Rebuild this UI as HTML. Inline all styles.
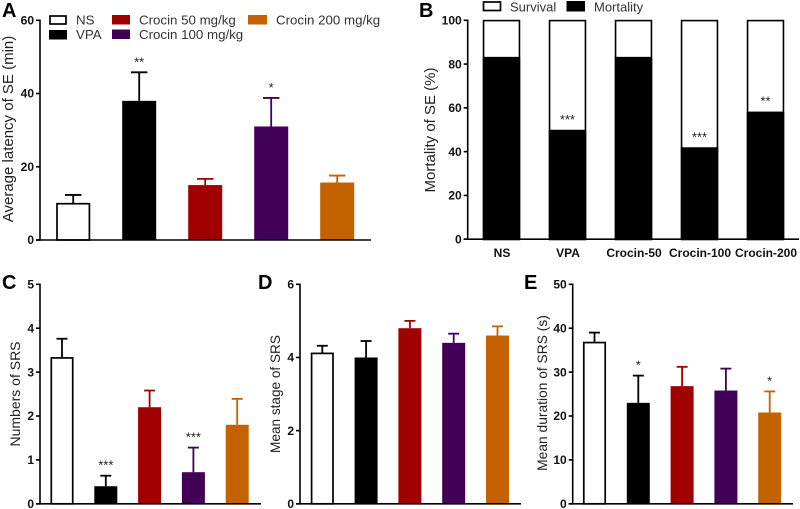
<!DOCTYPE html>
<html lang="en">
<head>
<meta charset="utf-8">
<title>Crocin SE and SRS charts</title>
<style>
html,body{margin:0;padding:0;background:#fff;width:800px;height:509px;overflow:hidden}
svg{display:block}
text{font-family:"Liberation Sans",sans-serif}
.letter{font-size:20px;font-weight:bold;fill:#000}
.title{font-size:15px;fill:#222}
.leg{font-size:13.3px;fill:#333}
</style>
</head>
<body>
<svg id="chart" xmlns="http://www.w3.org/2000/svg" width="800" height="509" viewBox="0 0 800 509">
  <text class="letter" x="2" y="17">A</text>
  <text class="letter" x="419" y="17">B</text>
  <text class="letter" x="2" y="289">C</text>
  <text class="letter" x="258" y="289">D</text>
  <text class="letter" x="524" y="289">E</text>

  <text class="title" transform="translate(13,129) rotate(-90)" text-anchor="middle">Average latency of SE (min)</text>
  <text class="title" transform="translate(435,130) rotate(-90)" text-anchor="middle">Mortality of SE (%)</text>
  <text class="title" x="0" y="0" transform="translate(20,394) rotate(-90)" text-anchor="middle" style="font-size:14px">Numbers of SRS</text>
  <text class="title" x="0" y="0" transform="translate(280,394) rotate(-90)" text-anchor="middle" style="font-size:13.6px">Mean stage of SRS</text>
  <text class="title" x="0" y="0" transform="translate(547,393) rotate(-90)" text-anchor="middle" style="font-size:13.8px">Mean duration of SRS (s)</text>

  <g>
    <rect x="50" y="16" width="16" height="8" fill="#fff" stroke="#000" stroke-width="1.7"/>
    <text class="leg" x="76" y="24.500">NS</text>
    <rect x="49" y="30" width="18" height="9.5" fill="#000"/>
    <text class="leg" x="76" y="39">VPA</text>
    <rect x="112" y="15" width="18" height="9.5" fill="#a00000"/>
    <text class="leg" x="139" y="24.500">Crocin 50 mg/kg</text>
    <rect x="112" y="29.500" width="18" height="9.5" fill="#420057"/>
    <text class="leg" x="139" y="39">Crocin 100 mg/kg</text>
    <rect x="248" y="15" width="19" height="9.5" fill="#c46200"/>
    <text class="leg" x="276" y="24.500">Crocin 200 mg/kg</text>
  </g>
  <g>
    <rect x="483.500" y="2" width="17" height="8.500" fill="#fff" stroke="#000" stroke-width="1.7"/>
    <text class="leg" x="510" y="11.500" style="font-size:13px">Survival</text>
    <rect x="566.500" y="1" width="18.500" height="10.500" fill="#000"/>
    <text class="leg" x="594" y="11.500" style="font-size:13px">Mortality</text>
  </g>
</svg>
<script>
// ---- data ----
const groupKeys = ['ns', 'vpa', 'crocin-50', 'crocin-100', 'crocin-200'];
const categoriesB = ['NS', 'VPA', 'Crocin-50', 'Crocin-100', 'Crocin-200'];

const latencyMeans = [10, 38, 15, 31, 15.7];
const latencyUppers = [12.3, 45.8, 16.7, 38.8, 17.6];
const latencyStars = ['', '**', '', '*', ''];
const latencyTicks = [0, 20, 40, 60];

const mortalityValues = [83.3, 50, 83.3, 42, 58.3];
const mortalityStars = ['', '***', '', '***', '**'];
const mortalityTicks = [0, 20, 40, 60, 80, 100];

const srsCountMeans = [3.33, 0.4, 2.2, 0.72, 1.8];
const srsCountUppers = [3.76, 0.64, 2.58, 1.28, 2.39];
const srsCountStars = ['', '***', '', '***', ''];
const srsCountTicks = [0, 1, 2, 3, 4, 5];

const srsStageMeans = [4.12, 4.0, 4.8, 4.4, 4.6];
const srsStageUppers = [4.32, 4.45, 5.0, 4.65, 4.85];
const srsStageStars = ['', '', '', '', ''];
const srsStageTicks = [0, 2, 4, 6];

const srsDurationMeans = [36.8, 23, 26.8, 25.8, 20.8];
const srsDurationUppers = [39, 29.2, 31.2, 30.8, 25.6];
const srsDurationStars = ['', '*', '', '', '*'];
const srsDurationTicks = [0, 10, 20, 30, 40, 50];

// ---- drawing ----
const svg = document.getElementById('chart');
const NS = 'http://www.w3.org/2000/svg';
const fills = ['#fff', '#000', '#a00000', '#420057', '#c46200'];
const strokes = ['#000', '#000', '#a00000', '#420057', '#c46200'];

function mk(parent, tag, attrs, name, text) {
  const el = document.createElementNS(NS, tag);
  for (const k in attrs) el.setAttribute(k, attrs[k]);
  
  
  if (text !== undefined) el.textContent = text;
  parent.appendChild(el);
  return el;
}

function axes(g, id, ticks, xAxis, xEnd, yScale) {
  const top = yScale(ticks[ticks.length - 1]);
  const bottom = yScale(0);
  mk(g, 'line', {x1: xAxis, x2: xAxis, y1: top - 0.8, y2: bottom + 0.8, stroke: '#000', 'stroke-width': 1.6}, 'y-axis-line-' + id);
  mk(g, 'line', {x1: xAxis - 4, x2: xEnd, y1: bottom, y2: bottom, stroke: '#000', 'stroke-width': 1.6}, 'x-axis-line-' + id);
  ticks.forEach(function (t) {
    const y = yScale(t);
    mk(g, 'line', {x1: xAxis - 4, x2: xAxis, y1: y, y2: y, stroke: '#000', 'stroke-width': 1.6}, 'y-tick-' + id + '-' + t);
    mk(g, 'text', {x: xAxis - 6, y: y + 4.2, 'text-anchor': 'end', 'font-size': 12, 'font-weight': 'bold', fill: '#111'}, 'y-tick-label-' + id + '-' + t, String(t));
  });
}

function barPanel(id, means, uppers, stars, ticks, layout) {
  const g = mk(svg, 'g', {}, 'panel-' + id);
  const yScale = function (v) { return layout.y0 - (v / ticks[ticks.length - 1]) * (layout.y0 - layout.yTop); };
  const xScale = function (i) { return layout.x0 + i * layout.band; };
  means.forEach(function (m, i) {
    const cx = xScale(i);
    const key = groupKeys[i];
    const yMean = yScale(m);
    const yUp = yScale(uppers[i]);
    mk(g, 'line', {x1: cx, x2: cx, y1: yMean, y2: yUp, stroke: strokes[i], 'stroke-width': 1.8}, 'error-bar-' + id + '-' + key);
    mk(g, 'line', {x1: cx - layout.cap / 2, x2: cx + layout.cap / 2, y1: yUp, y2: yUp, stroke: strokes[i], 'stroke-width': 1.8}, 'error-cap-' + id + '-' + key);
    const inset = i === 0 ? 0.8 : 0;
    mk(g, 'rect', {x: cx - layout.width / 2 + inset, y: yMean + inset * 0.4, width: layout.width - inset * 2, height: yScale(0) - yMean - inset * 0.4, fill: fills[i], stroke: i === 0 ? '#000' : 'none', 'stroke-width': 1.7}, 'bar-' + id + '-' + key);
    if (stars[i]) {
      mk(g, 'text', {x: cx, y: yUp - 6, 'text-anchor': 'middle', 'font-size': 13, fill: '#222'}, 'significance-' + id + '-' + key, stars[i]);
    }
  });
  axes(g, id, ticks, layout.xAxis, layout.xEnd, yScale);
}

function stackedPanel(id, values, stars, ticks, layout) {
  const g = mk(svg, 'g', {}, 'panel-' + id);
  const yScale = function (v) { return layout.y0 - (v / ticks[ticks.length - 1]) * (layout.y0 - layout.yTop); };
  const xScale = function (i) { return layout.x0 + i * layout.band; };
  values.forEach(function (v, i) {
    const cx = xScale(i);
    const key = groupKeys[i];
    mk(g, 'rect', {x: cx - layout.width / 2 + 0.8, y: yScale(100) + 0.3, width: layout.width - 1.6, height: yScale(0) - yScale(100), fill: '#fff', stroke: '#000', 'stroke-width': 1.6}, 'bar-survival-' + key);
    mk(g, 'rect', {x: cx - layout.width / 2, y: yScale(v), width: layout.width, height: yScale(0) - yScale(v), fill: '#000'}, 'bar-mortality-' + key);
    if (stars[i]) {
      mk(g, 'text', {x: cx, y: yScale(v) - 6, 'text-anchor': 'middle', 'font-size': 13, fill: '#222'}, 'significance-b-' + key, stars[i]);
    }
    mk(g, 'text', {x: cx + 0.5, y: 257, 'text-anchor': 'middle', 'font-size': 12, 'font-weight': 'bold', fill: '#111'}, 'x-tick-label-' + key, categoriesB[i]);
  });
  axes(g, id, ticks, layout.xAxis, layout.xEnd, yScale);
}

barPanel('a', latencyMeans, latencyUppers, latencyStars, latencyTicks,
  {x0: 73.2, band: 66, width: 34, cap: 16.5, y0: 240, yTop: 20.3, xAxis: 40, xEnd: 371});
stackedPanel('b', mortalityValues, mortalityStars, mortalityTicks,
  {x0: 501.5, band: 66, width: 37.5, y0: 239.2, yTop: 20.3, xAxis: 467.7, xEnd: 799});
barPanel('c', srsCountMeans, srsCountUppers, srsCountStars, srsCountTicks,
  {x0: 62, band: 43.8, width: 23, cap: 11, y0: 503.8, yTop: 284.3, xAxis: 40, xEnd: 261});
barPanel('d', srsStageMeans, srsStageUppers, srsStageStars, srsStageTicks,
  {x0: 322.3, band: 43.8, width: 23, cap: 11, y0: 503.8, yTop: 284.3, xAxis: 300, xEnd: 521});
barPanel('e', srsDurationMeans, srsDurationUppers, srsDurationStars, srsDurationTicks,
  {x0: 594.5, band: 43.8, width: 23, cap: 11, y0: 503.8, yTop: 284.3, xAxis: 572.7, xEnd: 793});
</script>
</body>
</html>
